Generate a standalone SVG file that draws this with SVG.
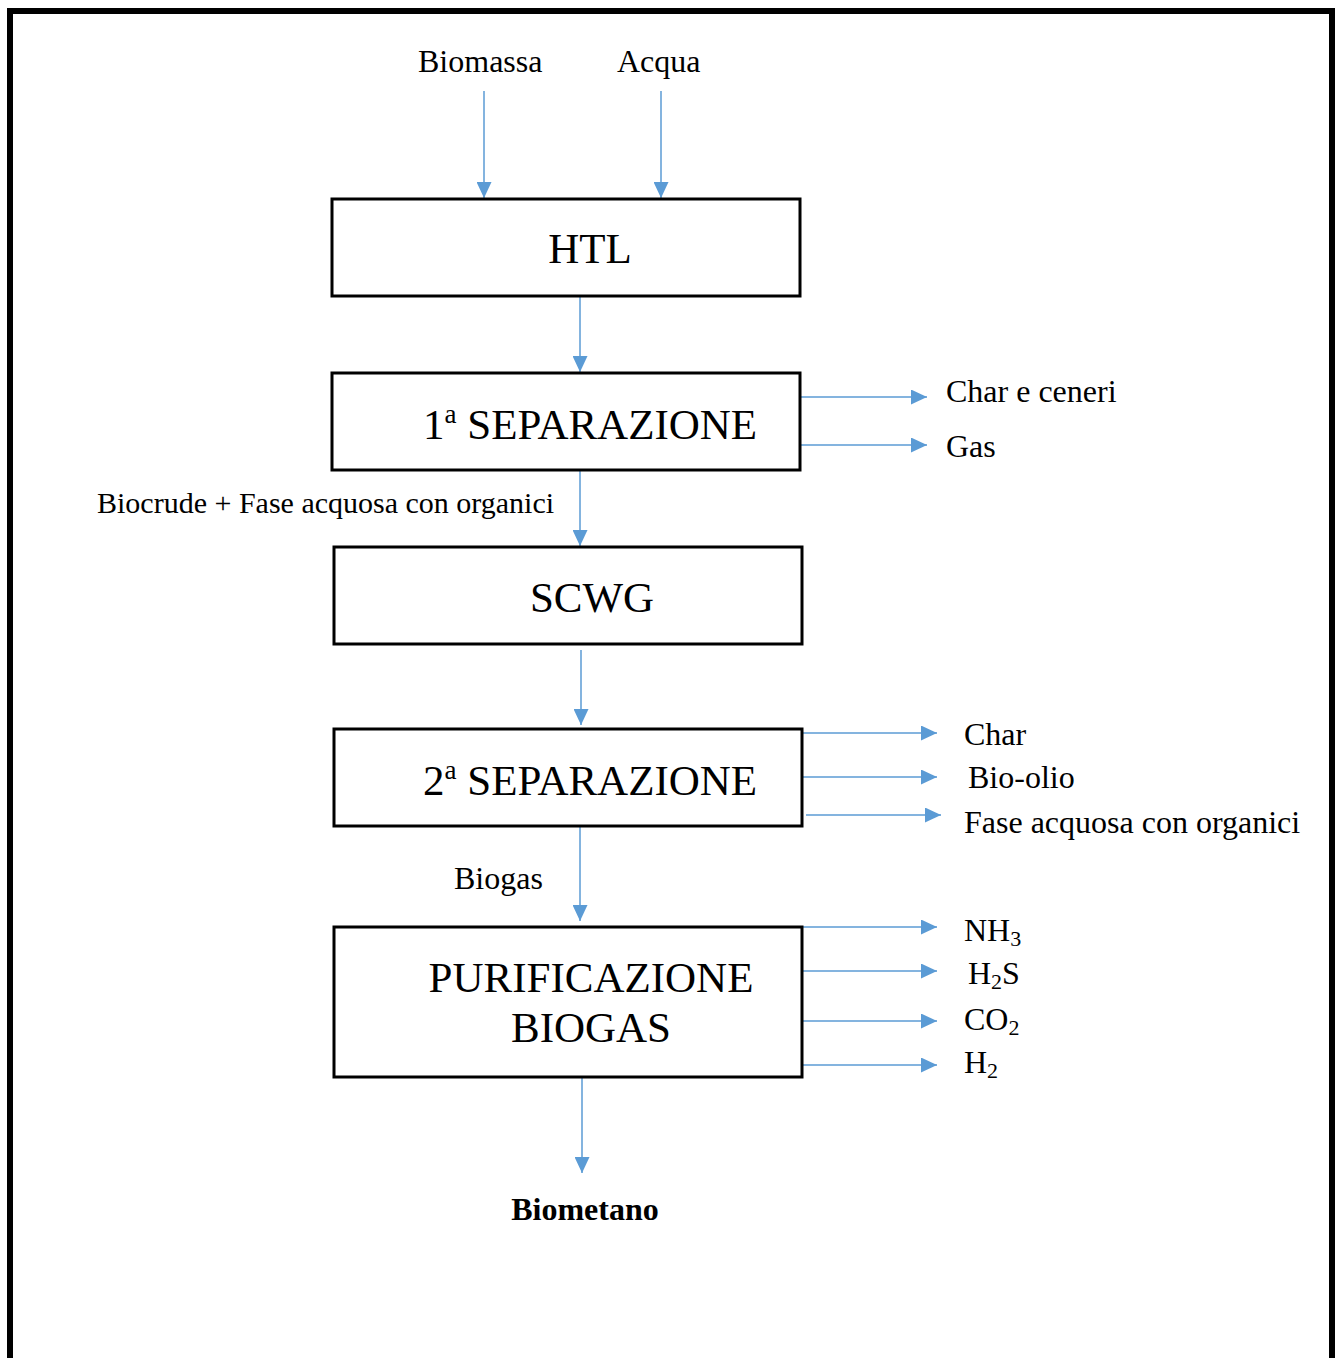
<svg xmlns="http://www.w3.org/2000/svg" width="1343" height="1358" viewBox="0 0 1343 1358">
<style>
.box{fill:#fff;stroke:#000;stroke-width:3}
.big{font-family:"Liberation Serif","Times New Roman",serif;font-size:43px;fill:#000}
.lbl{font-family:"Liberation Serif","Times New Roman",serif;font-size:32px;fill:#000}
.small{font-size:30px}
.bold{font-weight:bold;font-size:32px}
.conn line{stroke:#5B9BD5;stroke-width:1.5;marker-end:url(#ah)}
</style>
<defs>
<marker id="ah" markerUnits="userSpaceOnUse" markerWidth="16" markerHeight="15" refX="16" refY="7.5" orient="auto">
<path d="M0,0 L16,7.5 L0,15 Z" fill="#5B9BD5"/>
</marker>
</defs>
<rect x="0" y="0" width="1343" height="1358" fill="#fff"/>
<path d="M10,1370 L10,11 L1332,11 L1332,1370" fill="none" stroke="#000" stroke-width="6"/>

<g id="connectors" class="conn">
<line x1="484" y1="91" x2="484" y2="198"/>
<line x1="661" y1="91" x2="661" y2="198"/>
<line x1="580" y1="297" x2="580" y2="372"/>
<line x1="580" y1="471" x2="580" y2="546"/>
<line x1="581" y1="650" x2="581" y2="725"/>
<line x1="580" y1="827" x2="580" y2="921"/>
<line x1="582" y1="1078" x2="582" y2="1173"/>
<line x1="801" y1="397" x2="927" y2="397"/>
<line x1="801" y1="445" x2="927" y2="445"/>
<line x1="803" y1="733" x2="937" y2="733"/>
<line x1="803" y1="777" x2="937" y2="777"/>
<line x1="806" y1="815" x2="941" y2="815"/>
<line x1="803" y1="927" x2="937" y2="927"/>
<line x1="803" y1="971" x2="937" y2="971"/>
<line x1="803" y1="1021" x2="937" y2="1021"/>
<line x1="803" y1="1065" x2="937" y2="1065"/>
</g>

<g id="htl">
<rect class="box" x="332" y="199" width="468" height="97"/>
<text class="big" x="590" y="263" text-anchor="middle">HTL</text>
</g>
<g id="sep1">
<rect class="box" x="332" y="373" width="468" height="97"/>
<text class="big" x="423" y="439">1<tspan font-size="27" dy="-16">a</tspan><tspan dy="16"> SEPARAZIONE</tspan></text>
</g>
<g id="scwg">
<rect class="box" x="334" y="547" width="468" height="97"/>
<text class="big" x="592" y="612" text-anchor="middle">SCWG</text>
</g>
<g id="sep2">
<rect class="box" x="334" y="729" width="468" height="97"/>
<text class="big" x="423" y="795">2<tspan font-size="27" dy="-16">a</tspan><tspan dy="16"> SEPARAZIONE</tspan></text>
</g>
<g id="purif">
<rect class="box" x="334" y="927" width="468" height="150"/>
<text class="big" x="591" y="992" text-anchor="middle">PURIFICAZIONE</text>
<text class="big" x="591" y="1042" text-anchor="middle">BIOGAS</text>
</g>

<g id="labels">
<text class="lbl" x="418" y="72">Biomassa</text>
<text class="lbl" x="617" y="72">Acqua</text>
<text class="lbl" x="946" y="402">Char e ceneri</text>
<text class="lbl" x="946" y="457">Gas</text>
<text class="lbl small" x="97" y="513">Biocrude + Fase acquosa con organici</text>
<text class="lbl" x="964" y="745">Char</text>
<text class="lbl" x="968" y="788">Bio-olio</text>
<text class="lbl" x="964" y="833">Fase acquosa con organici</text>
<text class="lbl" x="454" y="889">Biogas</text>
<text class="lbl" x="964" y="941">NH<tspan font-size="22" dy="5">3</tspan></text>
<text class="lbl" x="968" y="984">H<tspan font-size="22" dy="5">2</tspan><tspan dy="-5">S</tspan></text>
<text class="lbl" x="964" y="1030">CO<tspan font-size="22" dy="5">2</tspan></text>
<text class="lbl" x="964" y="1073">H<tspan font-size="22" dy="5">2</tspan></text>
<text class="lbl bold" x="585" y="1220" text-anchor="middle">Biometano</text>
</g>
</svg>
